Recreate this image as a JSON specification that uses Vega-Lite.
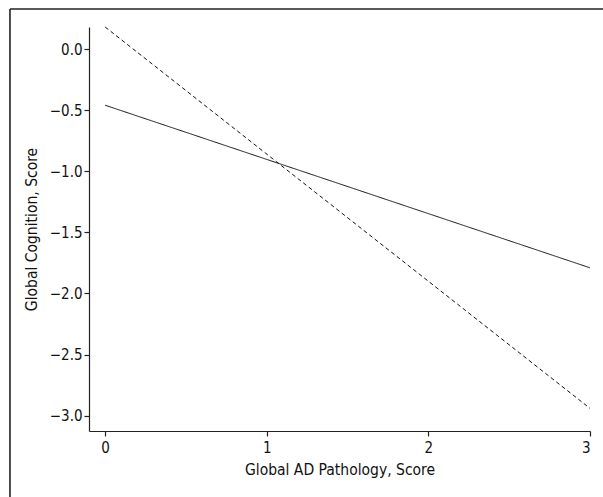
{
  "$schema": "https://vega.github.io/schema/vega-lite/v6.json",
  "autosize": {"type": "none"},
  "padding": {"left": 89, "top": 27, "right": 13, "bottom": 66},
  "width": 501,
  "height": 404,
  "config": {
    "view": {"stroke": null},
    "font": "DejaVu Sans Condensed, Liberation Sans, sans-serif",
    "axis": {
      "domainColor": "#222",
      "tickColor": "#222",
      "domainWidth": 1.2,
      "tickWidth": 1.2,
      "tickSize": 5,
      "grid": false,
      "labelFont": "DejaVu Sans Condensed, Liberation Sans, sans-serif",
      "titleFont": "DejaVu Sans Condensed, Liberation Sans, sans-serif",
      "labelFontSize": 15,
      "titleFontSize": 15.5,
      "titleFontWeight": "normal",
      "labelColor": "#111",
      "titleColor": "#111"
    }
  },
  "datasets": {
    "lines": [
      {"group": "A", "pathology": 0, "cognition": -0.46},
      {"group": "A", "pathology": 3, "cognition": -1.79},
      {"group": "B", "pathology": 0, "cognition": 0.18},
      {"group": "B", "pathology": 3, "cognition": -2.94}
    ],
    "frame": [
      {"fx1": -0.589, "fx2": 3.2, "fy1": 0.327, "fy2": -3.9}
    ],
    "test": [
      {"tx1": -0.589, "tx2": 3.2, "ty": 0.327, "c": "#222"}
    ]
  },
  "layer": [
    {
      "data": {"name": "frame"},
      "mark": {"type": "rule", "stroke": "#222", "strokeWidth": 1.6, "clip": false},
      "encoding": {
        "x": {"field": "fx1", "type": "quantitative"},
        "y": {"field": "fy1", "type": "quantitative"},
        "y2": {"field": "fy2"}
      }
    },
    {
      "data": {"name": "test"},
      "mark": {"type": "rule", "strokeWidth": 1.6, "clip": false},
      "encoding": {
        "x": {"field": "tx1", "type": "quantitative"},
        "x2": {"field": "tx2"},
        "y": {"field": "ty", "type": "quantitative"},
        "color": {"field": "c", "type": "nominal", "scale": null}
      }
    },
    {
      "data": {"name": "lines"},
      "mark": {"type": "line", "color": "#111", "strokeWidth": 1},
      "encoding": {
        "x": {
          "field": "pathology",
          "type": "quantitative",
          "scale": {"domain": [-0.1, 3.0], "nice": false, "zero": false},
          "axis": {"values": [0, 1, 2, 3], "format": "d", "title": "Global AD Pathology, Score", "titlePadding": 7, "labelPadding": 4}
        },
        "y": {
          "field": "cognition",
          "type": "quantitative",
          "scale": {"domain": [-3.125, 0.18], "nice": false, "zero": false},
          "axis": {"values": [0, -0.5, -1, -1.5, -2, -2.5, -3], "format": ".1f", "title": "Global Cognition, Score", "titlePadding": 10, "labelPadding": 2}
        },
        "strokeDash": {
          "field": "group",
          "type": "nominal",
          "scale": {"domain": ["A", "B"], "range": [[1, 0], [4, 3]]},
          "legend": null
        }
      }
    }
  ]
}
